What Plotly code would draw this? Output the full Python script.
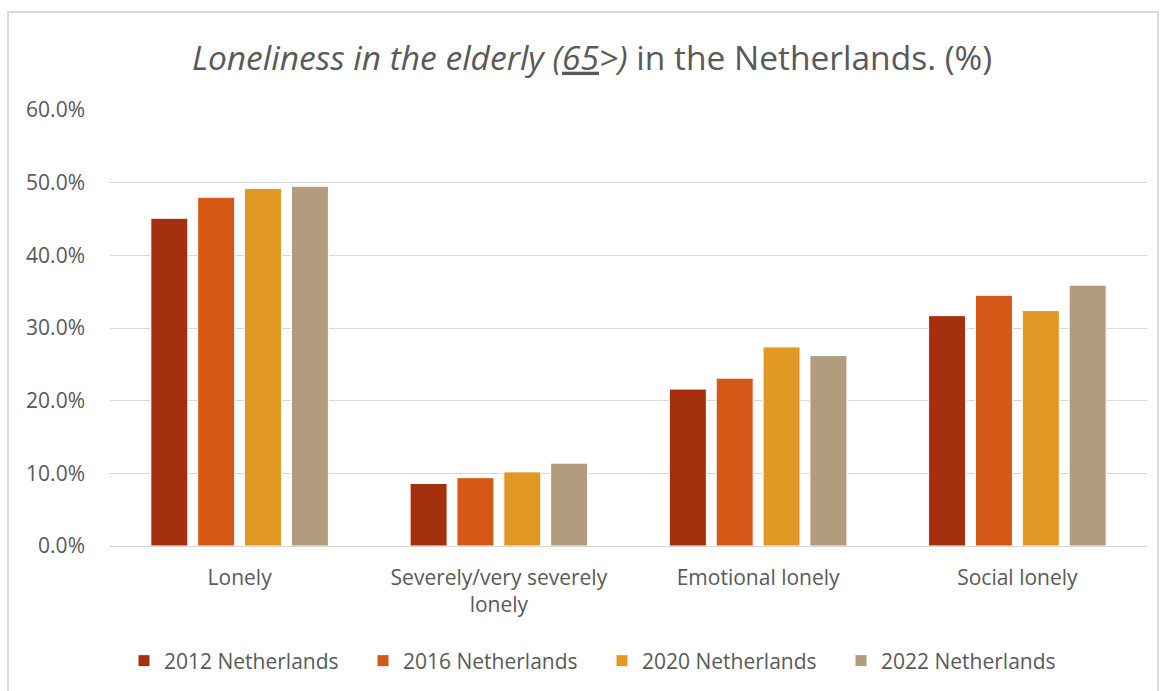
import plotly.graph_objects as go

categories = ["Lonely", "Severely/very severely<br>lonely", "Emotional lonely", "Social lonely"]
series_names = ["2012 Netherlands", "2016 Netherlands", "2020 Netherlands", "2022 Netherlands"]
values_2012 = [45.1, 8.6, 21.6, 31.7]
values_2016 = [48.0, 9.4, 23.1, 34.5]
values_2020 = [49.2, 10.2, 27.4, 32.4]
values_2022 = [49.5, 11.4, 26.2, 35.9]
colors = ["#A5300F", "#D55816", "#E19825", "#B19C7D"]
y_ticks = [0, 10, 20, 30, 40, 50, 60]
y_tick_labels = ["0.0%", "10.0%", "20.0%", "30.0%", "40.0%", "50.0%", "60.0%"]

FONT = "Open Sans"
TXT = "#595959"

fig = go.Figure()
for name, vals, col in zip(series_names, [values_2012, values_2016, values_2020, values_2022], colors):
    fig.add_trace(go.Bar(
        x=categories, y=vals, name=name,
        marker=dict(color=col, line=dict(color="white", width=1)),
    ))

W, H = 1162, 691
L, R, T, B = 110, 15, 110, 145
pw, ph = W - L - R, H - T - B

def px(x):
    return (x - L) / pw

def py(y):
    return (H - B - y) / ph

fig.update_layout(
    width=W, height=H,
    margin=dict(l=L, r=R, t=T, b=B, autoexpand=False),
    paper_bgcolor="white", plot_bgcolor="white",
    font=dict(family=FONT, color=TXT, size=20),
    barmode="group", bargap=0.277, bargroupgap=0.21,
    title=dict(
        text="<i>Loneliness in the elderly (<u>65</u>>)</i> in the Netherlands. (%)",
        x=592 / W, xanchor="center", y=1 - 58 / H, yanchor="middle",
        font=dict(family=FONT, size=33.5, color=TXT),
    ),
    xaxis=dict(showgrid=False, showline=False, ticks="", tickfont=dict(size=21, color=TXT),
               ticklabelstandoff=17, automargin=False),
    yaxis=dict(range=[0, 60], tickvals=y_ticks, ticktext=y_tick_labels,
               showgrid=True, gridcolor="#D9D9D9", gridwidth=1,
               zeroline=True, zerolinecolor="#D9D9D9", zerolinewidth=1,
               showline=False, ticks="", tickfont=dict(size=21, color=TXT),
               ticklabelstandoff=24, automargin=False),
    legend=dict(orientation="h", x=px(124), xanchor="left", y=py(661), yanchor="middle",
                font=dict(size=21, color=TXT), entrywidth=194, entrywidthmode="pixels",
                itemwidth=30, traceorder="normal"),
    shapes=[dict(type="rect", xref="paper", yref="paper",
                 x0=px(8), x1=px(1158), y0=py(H + 50), y1=py(12),
                 line=dict(color="#D9D9D9", width=2), fillcolor="rgba(0,0,0,0)", layer="below")],
)

fig.write_html("out.html")
